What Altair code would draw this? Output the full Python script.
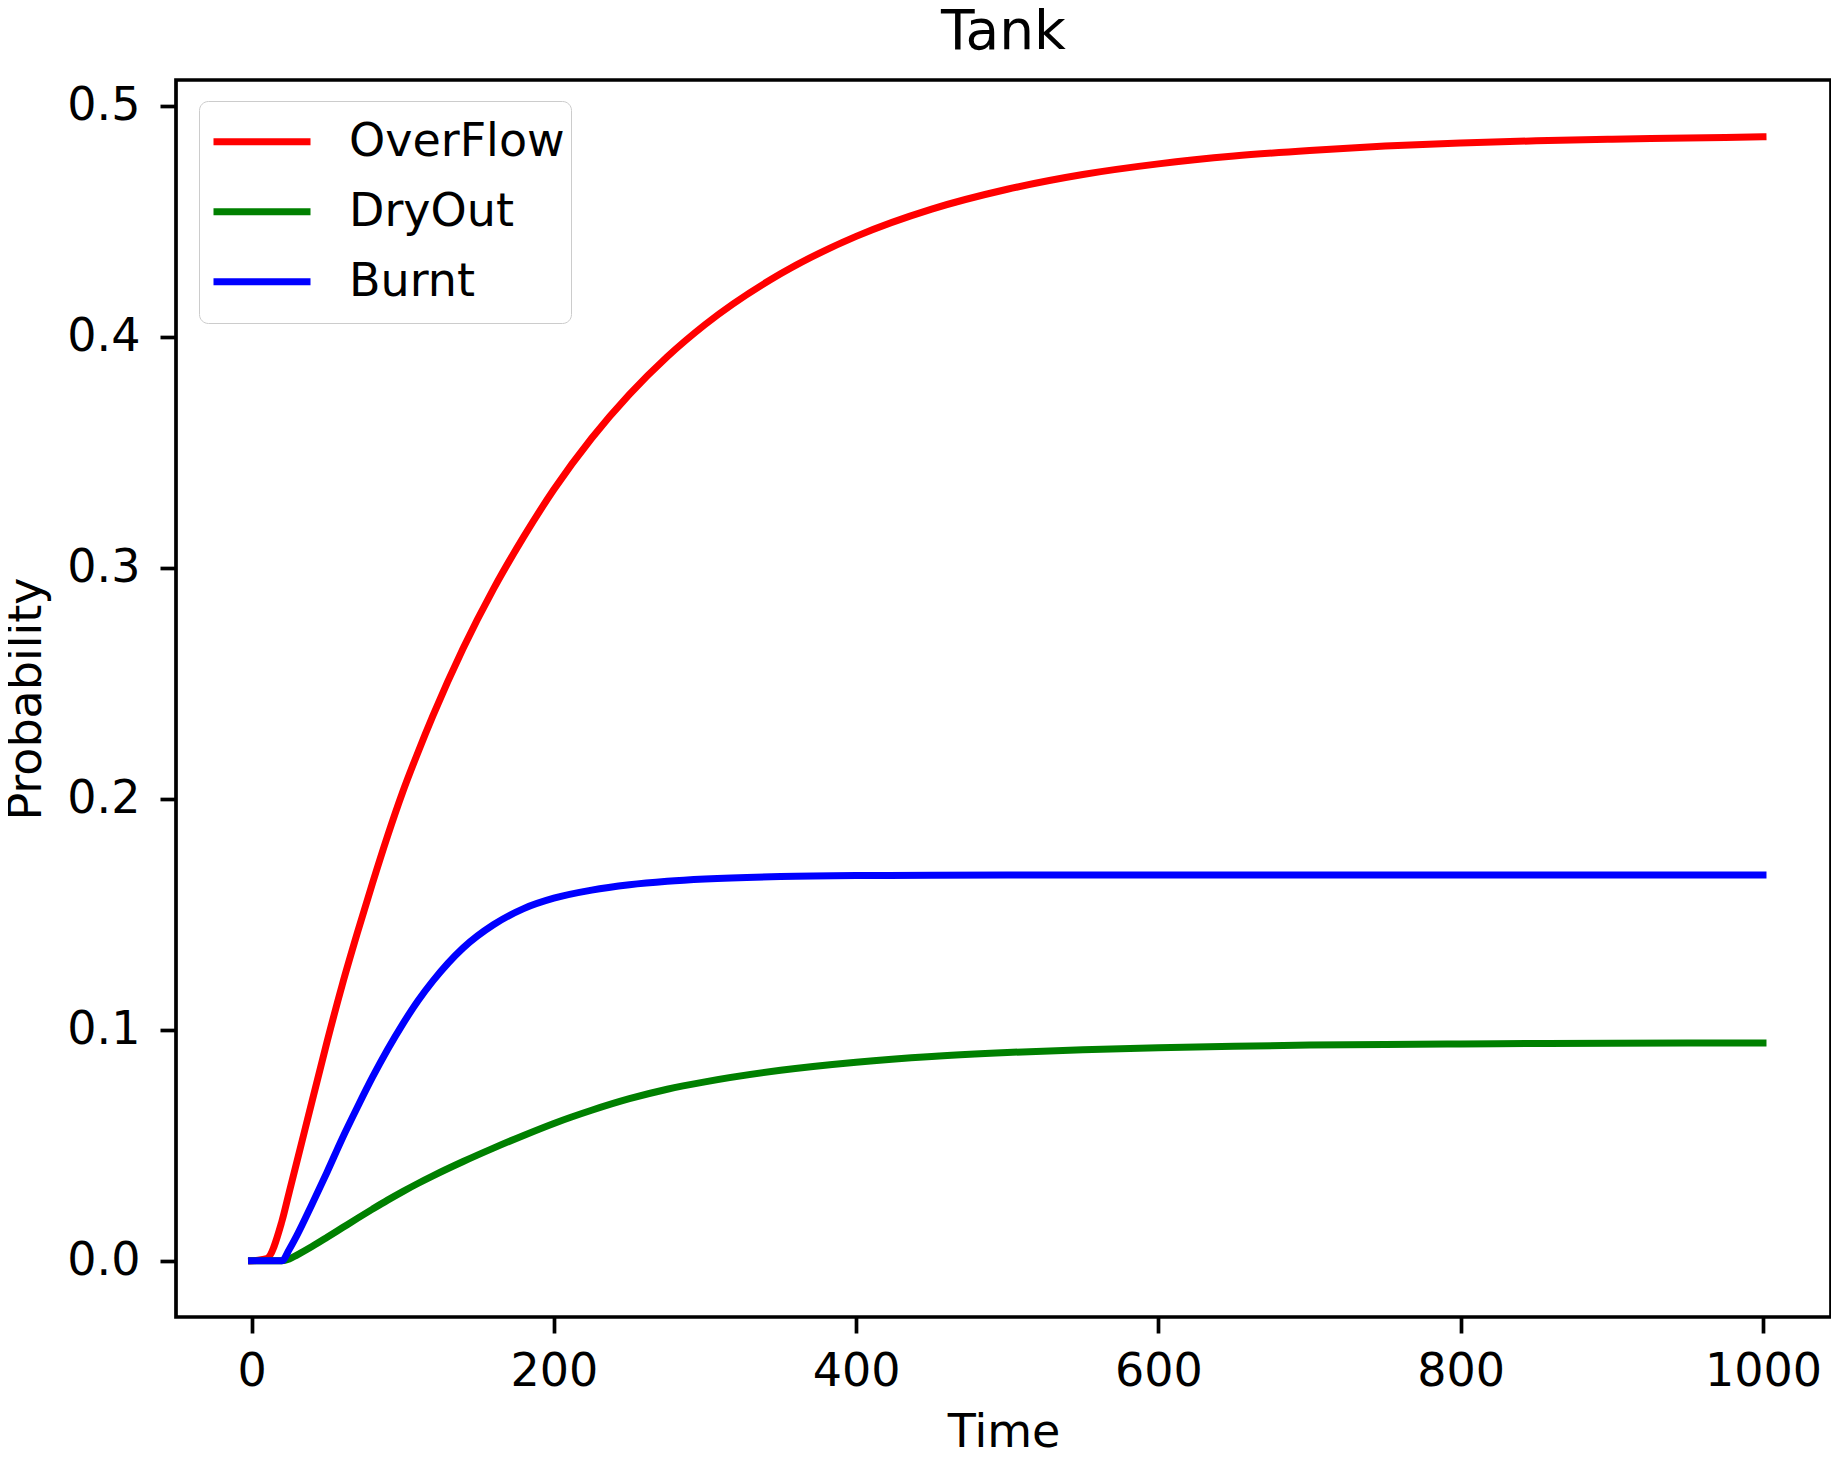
import altair as alt
import pandas as pd

# Time grid (shared by all series)
time = [0, 10, 20, 25, 30, 40, 50, 60, 70, 80, 90, 100, 110, 120, 140, 160, 180,
        200, 225, 250, 275, 300, 350, 400, 450, 500, 550, 600, 650, 700, 750,
        800, 850, 900, 950, 1000]

overflow = [0.0, 0.001, 0.017, 0.030, 0.043, 0.069, 0.095, 0.1195, 0.1420, 0.1635,
            0.1840, 0.2030, 0.2200, 0.2360, 0.2652, 0.2908, 0.3134, 0.3339, 0.3561,
            0.3751, 0.3914, 0.4053, 0.4273, 0.4435, 0.4553, 0.4639, 0.4703, 0.4749,
            0.4783, 0.4807, 0.4826, 0.4839, 0.4849, 0.4856, 0.4861, 0.4866]

dryout = [0.0, 0.0, 0.0, 0.0008, 0.0025, 0.0062, 0.0102, 0.0143, 0.0184, 0.0224,
          0.0263, 0.0300, 0.0335, 0.0368, 0.0430, 0.0488, 0.0543, 0.0595, 0.0652,
          0.0702, 0.0743, 0.0775, 0.0825, 0.0860, 0.0885, 0.0902, 0.0914, 0.0923,
          0.0929, 0.0934, 0.0937, 0.0939, 0.0941, 0.0942, 0.0943, 0.0943]

burnt = [0.0, 0.0, 0.0, 0.005, 0.011, 0.0245, 0.0385, 0.053, 0.0665, 0.0795,
         0.0915, 0.1025, 0.1125, 0.1212, 0.1355, 0.1455, 0.1525, 0.157, 0.1605,
         0.1628, 0.1643, 0.1653, 0.1664, 0.1668, 0.1669, 0.167, 0.167, 0.167,
         0.167, 0.167, 0.167, 0.167, 0.167, 0.167, 0.167, 0.167]

series_names = ["OverFlow", "DryOut", "Burnt"]
series_colors = ["#ff0000", "#008000", "#0000ff"]
x_ticks = [0, 200, 400, 600, 800, 1000]
y_ticks = [0.0, 0.1, 0.2, 0.3, 0.4, 0.5]
chart_title = ["Tank"]

rows = []
for name, vals in zip(series_names, [overflow, dryout, burnt]):
    for t, v in zip(time, vals):
        rows.append({"Time": t, "Probability": v, "Series": name})
df = pd.DataFrame(rows)

W, H = 1655, 1237
FONT = "DejaVu Sans"

lines = alt.Chart(df).mark_line(strokeWidth=7, interpolate="monotone", strokeCap="square").encode(
    x=alt.X("Time:Q",
            scale=alt.Scale(domain=[-50, 1045], nice=False, zero=False),
            axis=alt.Axis(values=x_ticks, format="d", grid=False, domain=False,
                          tickSize=16, tickWidth=3.7, tickColor="black",
                          labelPadding=16, labelFontSize=46, labelFont=FONT,
                          labelColor="black", labelFlush=False,
                          title="Time", titleFontSize=46, titleFont=FONT,
                          titleFontWeight="normal", titleColor="black",
                          titleX=W / 2, titleY=129, titleAlign="center",
                          titleBaseline="alphabetic")),
    y=alt.Y("Probability:Q",
            scale=alt.Scale(domain=[-0.0243, 0.5112], nice=False, zero=False),
            axis=alt.Axis(values=y_ticks, format=".1f", grid=False, domain=False,
                          tickSize=16, tickWidth=3.7, tickColor="black",
                          labelPadding=20, labelFontSize=46, labelFont=FONT,
                          labelColor="black", labelFlush=False,
                          title="Probability", titleFontSize=46, titleFont=FONT,
                          titleFontWeight="normal", titleColor="black",
                          titleX=-150, titleY=H / 2, titleAngle=270,
                          titleAlign="center", titleBaseline="middle")),
    color=alt.Color("Series:N",
                    scale=alt.Scale(domain=series_names, range=series_colors),
                    sort=series_names,
                    legend=alt.Legend(orient="none", legendX=23, legendY=21,
                                      title=None, symbolType="stroke",
                                      symbolSize=9409, symbolStrokeWidth=7,
                                      symbolOffset=5, clipHeight=69.5,
                                      rowPadding=0, padding=6,
                                      labelFontSize=46, labelFont=FONT,
                                      labelColor="black", labelOffset=35,
                                      labelLimit=400,
                                      fillColor="white", strokeColor="#cccccc",
                                      cornerRadius=9)),
)

title_text = alt.Chart(pd.DataFrame({"label": chart_title})).mark_text(
    fontSize=55, font=FONT, color="black", align="center", baseline="alphabetic"
).encode(
    text="label:N",
    x=alt.value(W / 2),
    y=alt.value(-31),
)

chart = alt.layer(lines, title_text).properties(
    width=W,
    height=H,
    autosize=alt.AutoSizeParams(type="none"),
    padding={"left": 168, "top": 72, "right": 0, "bottom": 132},
    background="white",
).configure_view(
    stroke="black", strokeWidth=3.7
)

chart.save("out.html", embed_options={"renderer": "svg", "actions": False})
